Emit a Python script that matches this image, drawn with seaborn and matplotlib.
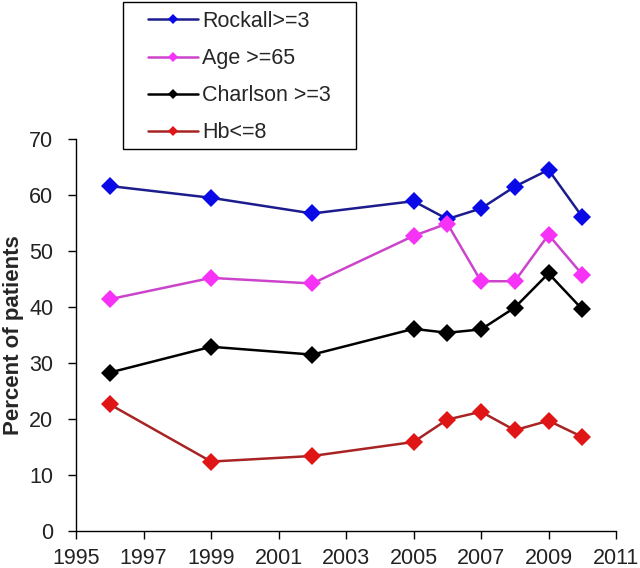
import pandas as pd
import numpy as np
import seaborn as sns
import matplotlib
matplotlib.use("Agg")
import matplotlib.pyplot as plt
from matplotlib.patches import Rectangle

# values
years = [1996, 1999, 2002, 2005, 2006, 2007, 2008, 2009, 2010]
rockall = [61.6, 59.5, 56.7, 58.9, 55.7, 57.6, 61.5, 64.5, 56.1]
age = [41.4, 45.2, 44.2, 52.7, 54.9, 44.6, 44.6, 52.9, 45.8]
charlson = [28.3, 32.9, 31.5, 36.1, 35.4, 36.0, 39.9, 46.0, 39.6]
hb = [22.6, 12.4, 13.4, 15.9, 19.9, 21.3, 18.0, 19.7, 16.8]

names = ["Rockall>=3", "Age >=65", "Charlson >=3", "Hb<=8"]
line_colors = ["#1c1c8e", "#cc44cc", "#000000", "#a82424"]
marker_colors = ["#0a0ae6", "#f532f5", "#000000", "#e01616"]

x_ticks = list(range(1995, 2012, 2))
y_ticks = list(range(0, 71, 10))

rows = []
for name, vals in zip(names, [rockall, age, charlson, hb]):
    for yr, v in zip(years, vals):
        rows.append({"year": yr, "pct": v, "group": name})
df = pd.DataFrame(rows)

sns.set_style("ticks")
plt.rcParams["font.family"] = ["Liberation Sans", "DejaVu Sans"]

fig = plt.figure(figsize=(6.4, 5.68), dpi=100)
ax = fig.add_axes([0.119, 0.0651, 0.8435, 0.6902])

for name, lc, mc in zip(names, line_colors, marker_colors):
    sns.lineplot(data=df[df.group == name], x="year", y="pct", ax=ax,
                 color=lc, linewidth=1.8, marker="D", markersize=9,
                 markerfacecolor=mc, markeredgecolor=mc, markeredgewidth=0,
                 label=name, legend=False)

ax.set_xlim(1995, 2011)
ax.set_ylim(0, 70)
ax.set_xticks(x_ticks)
ax.set_yticks(y_ticks)
ax.tick_params(axis="both", labelsize=15.5, direction="out", length=6,
               width=1, color="black", labelcolor="#222222")
ax.tick_params(axis="y", pad=10.5)
ax.tick_params(axis="x", pad=6.5)
ax.set_xlabel("")
ax.set_ylabel("Percent of patients", fontsize=16, fontweight="bold", labelpad=4)
for s in ["top", "right"]:
    ax.spines[s].set_visible(False)
for s in ["left", "bottom"]:
    ax.spines[s].set_color("black")
    ax.spines[s].set_linewidth(1)

# legend box with wide side padding, like the original
handles, labels = ax.get_legend_handles_labels()
fig.legend(handles, labels, loc="upper left",
           bbox_to_anchor=(148 / 640, 0.9807), fontsize=15.5,
           frameon=False, handlelength=2.33, handletextpad=0.19,
           labelspacing=0.75, borderpad=0, borderaxespad=0, markerscale=0.55)
fig.patches.append(Rectangle((0.1922, 0.7377), 0.364, 0.2588,
                             transform=fig.transFigure, fill=False,
                             edgecolor="black", linewidth=1))

fig.savefig("out.png", dpi=100)
